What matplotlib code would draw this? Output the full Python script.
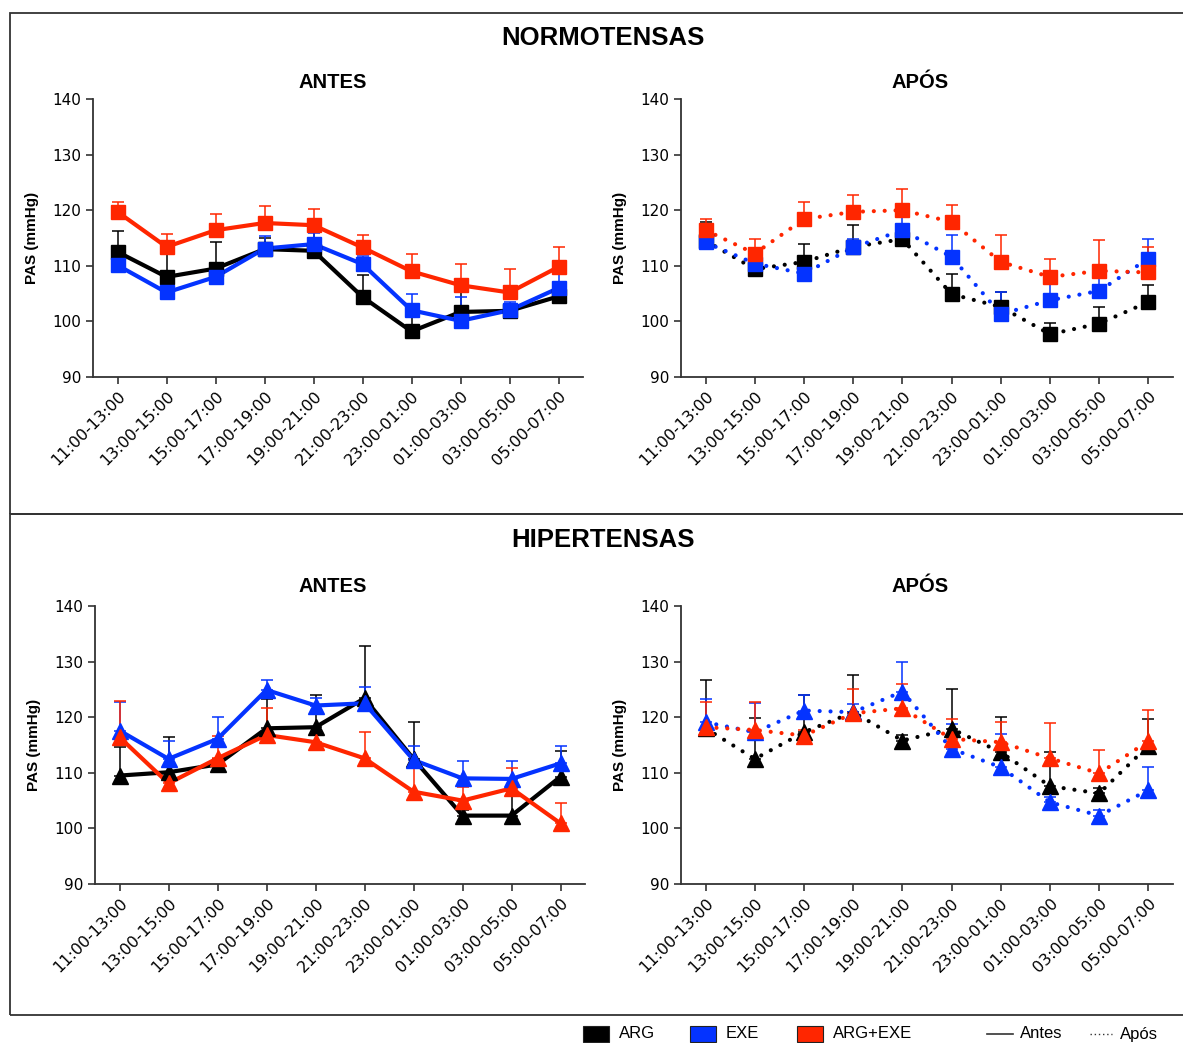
import matplotlib.pyplot as plt
from matplotlib.patches import Rectangle
from matplotlib.lines import Line2D

periods = ["11:00-13:00", "13:00-15:00", "15:00-17:00", "17:00-19:00", "19:00-21:00",
           "21:00-23:00", "23:00-01:00", "01:00-03:00", "03:00-05:00", "05:00-07:00"]

# Normotensas - antes
norm_antes_arg = [112.5, 108.0, 109.5, 113.0, 112.7, 104.4, 98.2, 101.7, 101.9, 104.5]
norm_antes_arg_sd = [3.7, 4.1, 4.7, 2.0, 3.3, 3.9, 3.0, 3.5, 1.0, 2.5]
norm_antes_exe = [110.1, 105.2, 108.0, 113.1, 113.9, 110.3, 102.0, 100.1, 102.0, 106.0]
norm_antes_exe_sd = [1.0, 1.0, 1.0, 2.3, 2.0, 1.5, 2.9, 4.2, 1.5, 2.8]
norm_antes_comb = [119.7, 113.4, 116.4, 117.7, 117.3, 113.3, 109.0, 106.5, 105.2, 109.8]
norm_antes_comb_sd = [1.8, 2.4, 3.0, 3.1, 2.9, 2.2, 3.1, 3.9, 4.2, 3.6]

# Normotensas - após
norm_apos_arg = [114.5, 109.4, 110.7, 113.4, 114.8, 104.9, 102.6, 97.7, 99.6, 103.5]
norm_apos_arg_sd = [3.3, 1.0, 3.2, 3.9, 1.5, 3.7, 2.7, 2.1, 3.0, 3.0]
norm_apos_exe = [114.2, 110.4, 108.6, 113.3, 116.4, 111.6, 101.3, 103.8, 105.5, 111.3]
norm_apos_exe_sd = [1.0, 1.0, 1.0, 1.6, 2.6, 4.0, 4.0, 2.9, 2.5, 3.6]
norm_apos_comb = [116.4, 112.2, 118.4, 119.7, 120.0, 117.9, 110.7, 108.0, 109.1, 108.8]
norm_apos_comb_sd = [2.1, 2.6, 3.1, 3.1, 3.8, 3.0, 4.8, 3.3, 5.5, 4.5]

# Hipertensas - antes
hip_antes_arg = [109.5, 110.1, 111.5, 118.0, 118.2, 123.4, 112.5, 102.3, 102.3, 109.3]
hip_antes_arg_sd = [5.1, 6.3, 1.0, 5.3, 5.8, 9.4, 6.6, 1.0, 4.5, 4.7]
hip_antes_exe = [117.6, 112.5, 116.1, 124.9, 122.1, 122.5, 112.3, 109.0, 108.9, 111.7]
hip_antes_exe_sd = [5.2, 3.2, 4.0, 1.8, 1.3, 3.0, 2.5, 3.2, 3.3, 3.1]
hip_antes_comb = [116.4, 108.1, 112.6, 116.8, 115.5, 112.6, 106.6, 105.0, 107.2, 100.9]
hip_antes_comb_sd = [6.5, 1.0, 4.1, 4.8, 1.5, 4.8, 4.4, 2.4, 3.6, 3.7]

# Hipertensas - após
hip_apos_arg = [118.0, 112.5, 117.3, 120.9, 115.8, 117.9, 113.7, 107.6, 106.3, 114.9]
hip_apos_arg_sd = [8.7, 7.3, 6.7, 6.7, 1.0, 7.1, 6.4, 6.2, 1.0, 4.8]
hip_apos_exe = [119.1, 117.3, 121.2, 120.9, 124.6, 114.3, 111.0, 104.7, 102.3, 106.9]
hip_apos_exe_sd = [4.2, 5.2, 2.8, 1.5, 5.4, 4.5, 5.9, 1.0, 1.0, 4.2]
hip_apos_comb = [118.2, 117.7, 116.7, 120.7, 121.6, 116.1, 115.5, 112.6, 109.9, 115.7]
hip_apos_comb_sd = [4.6, 5.0, 1.0, 4.3, 4.3, 3.6, 3.7, 6.3, 4.2, 5.6]

BLACK = "#000000"
BLUE = "#0433ff"
RED = "#ff2600"
SOLID = "-"
DOTTED = (0, (0.01, 2.6))

W, H = 1183, 1043
fig = plt.figure(figsize=(W / 100, H / 100), dpi=100)


def px_rect(x0, y0, x1, y1):
    # pixel box (top-left origin) -> figure fraction [left, bottom, width, height]
    return [x0 / W, 1 - y1 / H, (x1 - x0) / W, (y1 - y0) / H]


def draw_panel(rect, series, ls, marker, msize):
    ax = fig.add_axes(rect)
    x = list(range(len(periods)))
    for vals, sd, color in series:
        ax.errorbar(x, vals, yerr=[[0] * len(sd), sd], fmt="none", ecolor=color,
                    elinewidth=1.1, capsize=4, capthick=1.1, zorder=2)
        ax.plot(x, vals, color=color, linestyle=ls, linewidth=3,
                dash_capstyle="round", solid_capstyle="round", zorder=3)
        ax.plot(x, vals, linestyle="none", marker=marker, markersize=msize,
                color=color, markeredgecolor=color, zorder=4)
    ax.set_xlim(-0.5, 9.5)
    ax.set_ylim(90, 140)
    ax.set_yticks(range(90, 141, 10))
    ax.set_xticks(x)
    ax.set_xticklabels(periods, rotation=45, ha="right", va="top",
                       rotation_mode="anchor", fontsize=11.5)
    ax.tick_params(axis="y", labelsize=11, length=5, width=1.2, color="#333333")
    ax.tick_params(axis="x", length=5, width=1.2, color="#333333")
    for side in ("top", "right"):
        ax.spines[side].set_visible(False)
    for side in ("left", "bottom"):
        ax.spines[side].set_linewidth(1.3)
        ax.spines[side].set_color("#333333")
    ax.set_ylabel("PAS (mmHg)", fontsize=11, fontweight="bold", family="Liberation Sans")
    ax.yaxis.set_label_coords(-0.11, 0.5)
    return ax


draw_panel(px_rect(93, 99, 583, 377),
           [(norm_antes_arg, norm_antes_arg_sd, BLACK),
            (norm_antes_exe, norm_antes_exe_sd, BLUE),
            (norm_antes_comb, norm_antes_comb_sd, RED)], SOLID, "s", 10.5)
draw_panel(px_rect(681, 99, 1173, 377),
           [(norm_apos_arg, norm_apos_arg_sd, BLACK),
            (norm_apos_exe, norm_apos_exe_sd, BLUE),
            (norm_apos_comb, norm_apos_comb_sd, RED)], DOTTED, "s", 10.5)
draw_panel(px_rect(95, 606, 585, 884),
           [(hip_antes_arg, hip_antes_arg_sd, BLACK),
            (hip_antes_exe, hip_antes_exe_sd, BLUE),
            (hip_antes_comb, hip_antes_comb_sd, RED)], SOLID, "^", 11.5)
draw_panel(px_rect(681, 606, 1173, 884),
           [(hip_apos_arg, hip_apos_arg_sd, BLACK),
            (hip_apos_exe, hip_apos_exe_sd, BLUE),
            (hip_apos_comb, hip_apos_comb_sd, RED)], DOTTED, "^", 11.5)


def ftext(x, y, s, **kw):
    fig.text(x / W, 1 - y / H, s, family="Liberation Sans", **kw)


# group frames
for y0, y1 in ((13, 514), (514, 1015)):
    fig.add_artist(Rectangle((10 / W, 1 - y1 / H), 1.0, (y1 - y0) / H, transform=fig.transFigure,
                             fill=False, edgecolor="#333333", linewidth=1.3))

ftext(603, 38, "NORMOTENSAS", fontsize=18.5, fontweight="bold", ha="center", va="center")
ftext(333, 82, "ANTES", fontsize=14.5, fontweight="bold", ha="center", va="center")
ftext(920, 82, "APÓS", fontsize=14.5, fontweight="bold", ha="center", va="center")
ftext(603, 540, "HIPERTENSAS", fontsize=18.5, fontweight="bold", ha="center", va="center")
ftext(333, 586, "ANTES", fontsize=14.5, fontweight="bold", ha="center", va="center")
ftext(920, 586, "APÓS", fontsize=14.5, fontweight="bold", ha="center", va="center")

# legend row under the frames
ly = 1034
for x0, color, label in ((583, BLACK, "ARG"), (690, BLUE, "EXE"), (797, RED, "ARG+EXE")):
    fig.add_artist(Rectangle((x0 / W, 1 - (ly + 8) / H), 26 / W, 16 / H,
                             transform=fig.transFigure, facecolor=color, edgecolor="#222222",
                             linewidth=0.8))
    ftext(x0 + 36, ly, label, fontsize=12, ha="left", va="center")

fig.add_artist(Line2D([987 / W, 1013 / W], [1 - ly / H] * 2, transform=fig.transFigure,
                      color="#333333", linewidth=1.2))
ftext(1020, ly, "Antes", fontsize=12, ha="left", va="center")
fig.add_artist(Line2D([1090 / W, 1112 / W], [1 - ly / H] * 2, transform=fig.transFigure,
                      color="#333333", linewidth=1.0, linestyle=(0, (1, 2))))
ftext(1120, ly, "Após", fontsize=12, ha="left", va="center")

fig.savefig("out.png", dpi=100)
